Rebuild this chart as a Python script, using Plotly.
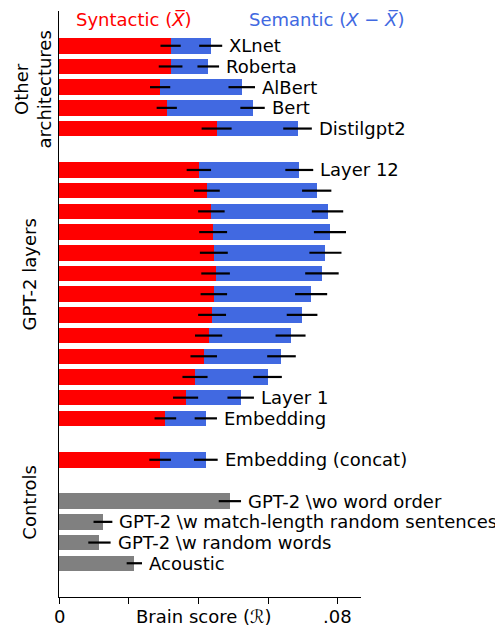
import plotly.graph_objects as go

# ---------------- data ----------------
arch_names = ["XLnet", "Roberta", "AlBert", "Bert", "Distilgpt2"]
arch_syn = [0.0320, 0.0320, 0.0290, 0.0309, 0.0452]
arch_total = [0.0435, 0.0428, 0.0524, 0.0555, 0.0684]
arch_syn_err = [0.0029, 0.0034, 0.0029, 0.0029, 0.0043]
arch_total_err = [0.0033, 0.0031, 0.0038, 0.0035, 0.0041]

gpt_labels = ["Layer 12", "", "", "", "", "", "", "", "", "", "", "Layer 1", "Embedding"]
gpt_syn = [0.0401, 0.0424, 0.0437, 0.0442, 0.0444, 0.0449, 0.0444, 0.0439, 0.0429, 0.0415, 0.0390, 0.0363, 0.0305]
gpt_total = [0.0689, 0.0739, 0.0770, 0.0777, 0.0764, 0.0754, 0.0723, 0.0697, 0.0664, 0.0638, 0.0598, 0.0521, 0.0421]
gpt_syn_err = [0.0035, 0.0037, 0.0038, 0.0040, 0.0040, 0.0041, 0.0038, 0.0040, 0.0039, 0.0038, 0.0036, 0.0036, 0.0031]
gpt_total_err = [0.0040, 0.0042, 0.0045, 0.0046, 0.0046, 0.0048, 0.0046, 0.0044, 0.0043, 0.0041, 0.0041, 0.0038, 0.0032]

concat_labels = ["Embedding (concat)"]
concat_syn = [0.0290]
concat_total = [0.0421]
concat_syn_err = [0.0031]
concat_total_err = [0.0034]

ctrl_names = ["GPT-2 \\wo word order", "GPT-2 \\w match-length random sentences",
              "GPT-2 \\w random words", "Acoustic"]
ctrl_vals = [0.0490, 0.0126, 0.0116, 0.0216]
ctrl_err = [0.0032, 0.0027, 0.0032, 0.0022]

x_tickvals = [0, 0.02, 0.04, 0.06, 0.08]
x_ticktext = ["0", "", "", "", ".08"]

# ---------------- style / layout ----------------
RED = "#ff0000"
BLUE = "#4169e1"
GREY = "#808080"
FONT = "DejaVu Sans"
FS = 18

pos = 0
def rows(n, gap_before):
    global pos
    pos += gap_before
    out = list(range(pos, pos + n))
    pos += n
    return out

arch_y = rows(len(arch_names), 0)
gpt_y = rows(len(gpt_syn), 1)
concat_y = rows(len(concat_syn), 1)
ctrl_y = rows(len(ctrl_vals), 1)

syn_y = arch_y + gpt_y + concat_y
syn_v = arch_syn + gpt_syn + concat_syn
tot_v = arch_total + gpt_total + concat_total
syn_e = arch_syn_err + gpt_syn_err + concat_syn_err
tot_e = arch_total_err + gpt_total_err + concat_total_err
lab = arch_names + gpt_labels + concat_labels

fig = go.Figure()
fig.add_trace(go.Bar(y=syn_y, x=syn_v, orientation="h", width=0.75,
                     marker=dict(color=RED, line=dict(width=0)), showlegend=False))
fig.add_trace(go.Bar(y=syn_y, x=[t - s for t, s in zip(tot_v, syn_v)], base=syn_v,
                     orientation="h", width=0.75,
                     marker=dict(color=BLUE, line=dict(width=0)), showlegend=False))
fig.add_trace(go.Bar(y=ctrl_y, x=ctrl_vals, orientation="h", width=0.75,
                     marker=dict(color=GREY, line=dict(width=0)), showlegend=False))

def errs(xs, ys, es):
    fig.add_trace(go.Scatter(x=xs, y=ys, mode="markers",
                             marker=dict(color="rgba(0,0,0,0)", size=1),
                             error_x=dict(type="data", array=es, width=0,
                                          thickness=2.2, color="black"),
                             showlegend=False, hoverinfo="skip"))

errs(syn_v, syn_y, syn_e)
errs(tot_v, syn_y, tot_e)
errs(ctrl_vals, ctrl_y, ctrl_err)

annotations = []
for yy, t, e, l in zip(syn_y, tot_v, tot_e, lab):
    if l:
        annotations.append(dict(x=t + e, y=yy, xref="x", yref="y", text=l, showarrow=False,
                                xanchor="left", yanchor="middle", xshift=5,
                                font=dict(size=FS, color="black", family=FONT)))
for yy, v, e, l in zip(ctrl_y, ctrl_vals, ctrl_err, ctrl_names):
    annotations.append(dict(x=v + e, y=yy, xref="x", yref="y", text=l, showarrow=False,
                            xanchor="left", yanchor="middle", xshift=5,
                            font=dict(size=FS, color="black", family=FONT)))

# header labels
annotations.append(dict(x=0.0216, y=-1.29, xref="x", yref="y",
                        text="Syntactic (<i>X\u0305</i>)", showarrow=False,
                        xanchor="center", yanchor="middle",
                        font=dict(size=FS, color=RED, family=FONT)))
annotations.append(dict(x=0.0766, y=-1.29, xref="x", yref="y",
                        text="Semantic (<i>X</i> \u2212 <i>X\u0305</i>)", showarrow=False,
                        xanchor="center", yanchor="middle",
                        font=dict(size=FS, color=BLUE, family=FONT)))

# group labels
for txt, yy, dx in [("Other<br>architectures", 2.13, 2), ("GPT-2 layers", 11.07, -1),
                    ("Controls", 22.09, -2)]:
    annotations.append(dict(x=-0.094, y=yy, xref="paper", yref="y", text=txt, xshift=dx,
                            showarrow=False, textangle=-90, xanchor="center", yanchor="middle",
                            font=dict(size=FS, color="black", family=FONT)))

# x tick labels and title (drawn as text so they sit on one line like the reference)
for tv, tt in zip(x_tickvals, x_ticktext):
    if tt:
        annotations.append(dict(x=tv, y=-0.034, xref="x", yref="paper", text=tt,
                                showarrow=False, xanchor="center", yanchor="middle",
                                font=dict(size=FS, color="black", family=FONT)))
annotations.append(dict(x=0.0415, y=-0.033, xref="x", yref="paper",
                        text="Brain score (\u211b)", showarrow=False,
                        xanchor="center", yanchor="middle",
                        font=dict(size=FS, color="black", family=FONT)))

# page body has an 8px margin, so the figure is sized to fit the window after that offset
fig.update_layout(
    width=495, height=620,
    margin=dict(l=51, r=142, t=3, b=31, autoexpand=False),
    paper_bgcolor="white", plot_bgcolor="white",
    barmode="overlay", bargap=0,
    font=dict(family=FONT, size=FS, color="black"),
    annotations=annotations,
)
fig.update_xaxes(range=[0, 0.0866], tickvals=x_tickvals, showticklabels=False,
                 showline=True, linecolor="black", linewidth=1.3, ticks="outside",
                 ticklen=6, tickwidth=1.3, tickcolor="black", showgrid=False, zeroline=False,
                 automargin=False)
fig.update_yaxes(range=[26.63, -1.68], showline=True, linecolor="black", linewidth=1.3,
                 showticklabels=False, ticks="", showgrid=False, zeroline=False,
                 automargin=False)

fig.write_html("out.html")
